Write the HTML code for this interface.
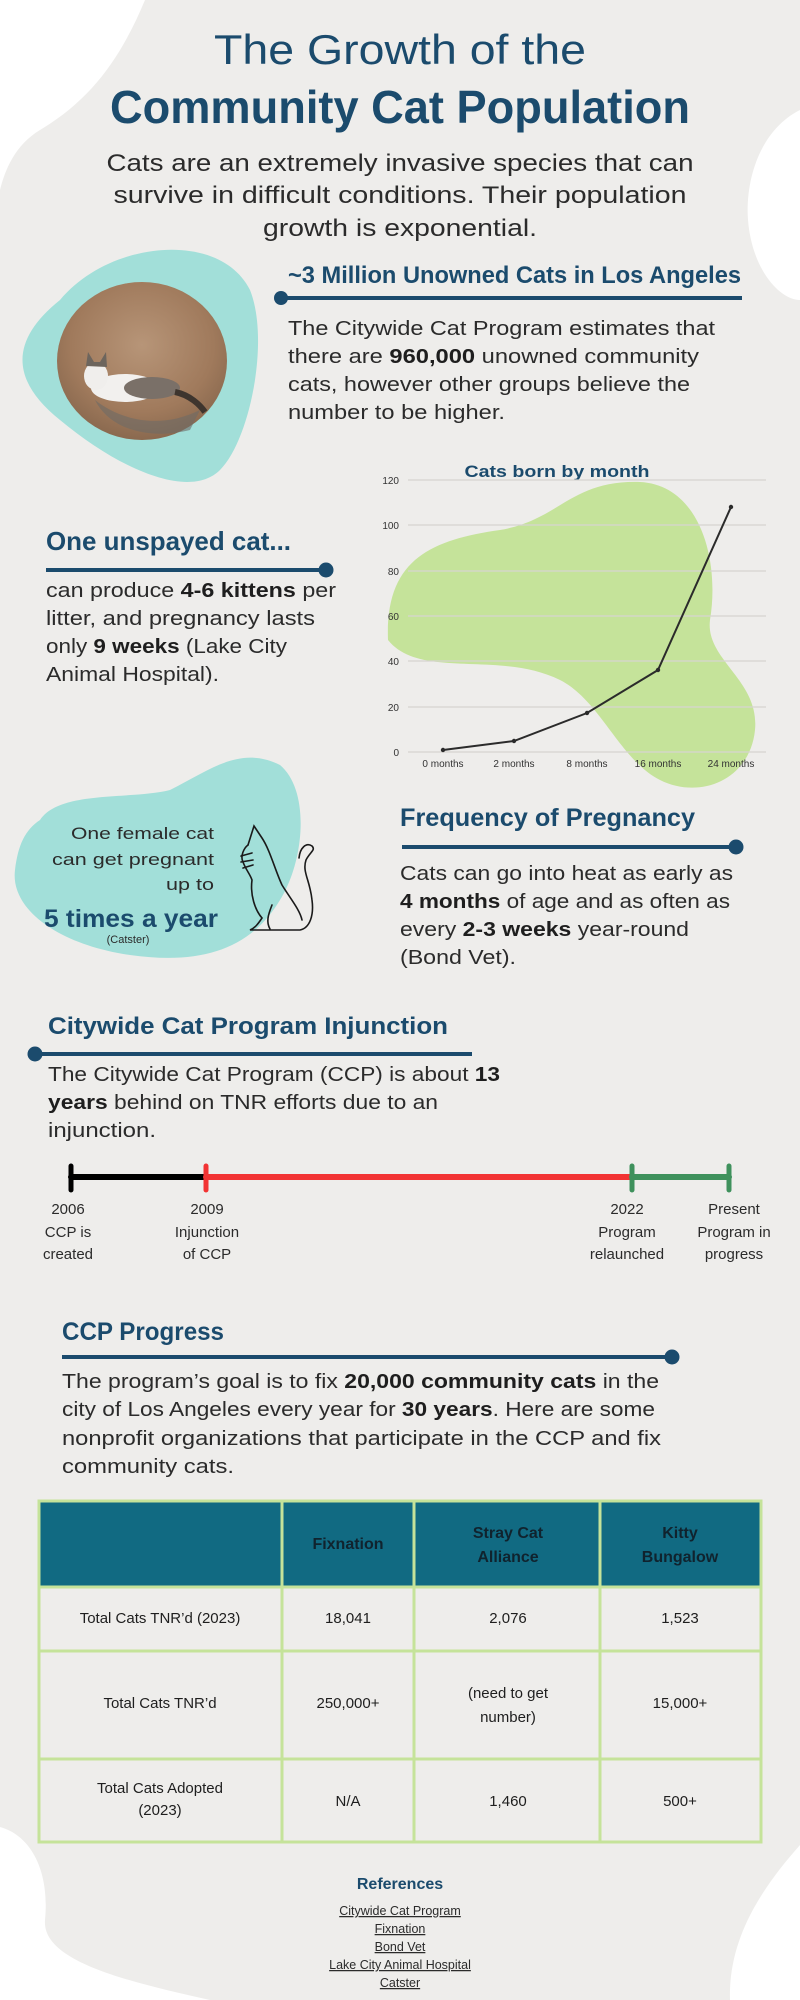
<!DOCTYPE html>
<html><head><meta charset="utf-8"><style>
html,body{margin:0;padding:0;background:#eeedeb;}
svg{display:block;}
text{font-family:"Liberation Sans",sans-serif;}
.h{fill:#1b4b6d;font-weight:bold;}
.b{fill:#2b2b2b;}
</style></head><body>
<svg width="800" height="2000" viewBox="0 0 800 2000" xmlns="http://www.w3.org/2000/svg">
<rect width="800" height="2000" fill="#eeedeb"/>
<!-- white corner blobs -->
<path d="M0 0 L145 0 C120 60 90 100 40 130 C15 145 5 170 0 190 Z" fill="#fff"/>
<path d="M800 110 C760 130 745 180 748 220 C752 270 780 300 800 300 Z" fill="#fff"/>
<path d="M0 1827 C30 1835 50 1870 45 1920 C42 1960 120 1980 210 2000 L0 2000 Z" fill="#fff"/>
<path d="M800 1845 C760 1890 728 1940 730 2000 L800 2000 Z" fill="#fff"/>

<!-- Title -->
<text x="400" y="64" text-anchor="middle" font-size="42" fill="#1b4b6d" textLength="372" lengthAdjust="spacingAndGlyphs">The Growth of the</text>
<text x="400" y="123" text-anchor="middle" font-size="46" class="h" textLength="580" lengthAdjust="spacingAndGlyphs">Community Cat Population</text>
<text x="400" y="171" text-anchor="middle" font-size="24" class="b" textLength="587" lengthAdjust="spacingAndGlyphs">Cats are an extremely invasive species that can</text>
<text x="400" y="203" text-anchor="middle" font-size="24" class="b" textLength="573" lengthAdjust="spacingAndGlyphs">survive in difficult conditions. Their population</text>
<text x="400" y="236" text-anchor="middle" font-size="24" class="b" textLength="274" lengthAdjust="spacingAndGlyphs">growth is exponential.</text>

<!-- teal blob 1 and photo -->
<path d="M60 300 C110 240 220 230 250 290 C270 340 250 440 220 470 C190 500 120 470 60 420 C10 380 10 340 60 300 Z" fill="#a2dfd9"/>
<defs>
<radialGradient id="sand" cx="0.5" cy="0.4" r="0.7">
<stop offset="0" stop-color="#b79578"/><stop offset="0.6" stop-color="#a07a5c"/><stop offset="1" stop-color="#7e6048"/></radialGradient>
</defs>
<ellipse cx="142" cy="361" rx="85" ry="79" fill="url(#sand)"/>
<path d="M95 400 C120 420 160 430 200 410 L190 430 C150 440 110 430 95 400 Z" fill="#6e6a66" opacity="0.6"/>
<ellipse cx="125" cy="388" rx="34" ry="14" fill="#f2f0ee"/>
<ellipse cx="152" cy="388" rx="28" ry="11" fill="#7a7068"/>
<ellipse cx="96" cy="376" rx="12" ry="14" fill="#f0eeec"/>
<path d="M86 366 L88 352 L94 362 L100 362 L106 352 L107 367 Z" fill="#6d655d"/>
<path d="M175 392 C190 395 200 405 205 412" stroke="#3e352e" stroke-width="6" fill="none"/>

<!-- Heading 1 -->
<text x="288" y="283" font-size="24" class="h" textLength="453" lengthAdjust="spacingAndGlyphs">~3 Million Unowned Cats in Los Angeles</text>
<line x1="281" y1="298" x2="742" y2="298" stroke="#1b4b6d" stroke-width="4"/>
<circle cx="281" cy="298" r="7" fill="#1b4b6d"/>
<g font-size="20" class="b">
<text x="288" y="335" textLength="427" lengthAdjust="spacingAndGlyphs">The Citywide Cat Program estimates that</text>
<text x="288" y="363" textLength="411" lengthAdjust="spacingAndGlyphs">there are <tspan font-weight="bold" fill="#1e1e1e">960,000</tspan> unowned community</text>
<text x="288" y="391" textLength="402" lengthAdjust="spacingAndGlyphs">cats, however other groups believe the</text>
<text x="288" y="419" textLength="217" lengthAdjust="spacingAndGlyphs">number to be higher.</text>
</g>

<!-- green blob + chart -->
<path d="M388 640 C385 560 430 540 500 530 C560 520 570 480 640 482 C700 485 720 560 710 620 C705 660 760 680 755 730 C750 780 700 800 660 780 C620 760 600 700 560 680 C500 650 420 680 388 640 Z" fill="#c5e39a"/>
<text x="557" y="477" text-anchor="middle" font-size="17" class="h" textLength="185" lengthAdjust="spacingAndGlyphs">Cats born by month</text>
<g stroke="#d6d4d0" stroke-width="1.2">
<line x1="408" y1="480" x2="766" y2="480"/><line x1="408" y1="525" x2="766" y2="525"/>
<line x1="408" y1="571" x2="766" y2="571"/><line x1="408" y1="616" x2="766" y2="616"/>
<line x1="408" y1="661" x2="766" y2="661"/><line x1="408" y1="707" x2="766" y2="707"/>
<line x1="408" y1="752" x2="766" y2="752"/>
</g>
<g font-size="10" fill="#333" text-anchor="end">
<text x="399" y="484">120</text><text x="399" y="529">100</text><text x="399" y="575">80</text>
<text x="399" y="620">60</text><text x="399" y="665">40</text><text x="399" y="711">20</text><text x="399" y="756">0</text>
</g>
<g font-size="10" fill="#333" text-anchor="middle">
<text x="443" y="767">0 months</text><text x="514" y="767">2 months</text><text x="587" y="767">8 months</text>
<text x="658" y="767">16 months</text><text x="731" y="767">24 months</text>
</g>
<polyline points="443,750 514,741 587,713 658,670 731,507" fill="none" stroke="#2b2b2b" stroke-width="2"/>
<g fill="#2b2b2b"><circle cx="443" cy="750" r="2.2"/><circle cx="514" cy="741" r="2.2"/><circle cx="587" cy="713" r="2.2"/><circle cx="658" cy="670" r="2.2"/><circle cx="731" cy="507" r="2.2"/></g>

<!-- One unspayed cat -->
<text x="46" y="550" font-size="26" class="h" textLength="245" lengthAdjust="spacingAndGlyphs">One unspayed cat...</text>
<line x1="46" y1="570" x2="326" y2="570" stroke="#1b4b6d" stroke-width="4"/>
<circle cx="326" cy="570" r="7.5" fill="#1b4b6d"/>
<g font-size="20" class="b">
<text x="46" y="597" textLength="290" lengthAdjust="spacingAndGlyphs">can produce <tspan font-weight="bold" fill="#1e1e1e">4-6 kittens</tspan> per</text>
<text x="46" y="625" textLength="269" lengthAdjust="spacingAndGlyphs">litter, and pregnancy lasts</text>
<text x="46" y="653" textLength="241" lengthAdjust="spacingAndGlyphs">only <tspan font-weight="bold" fill="#1e1e1e">9 weeks</tspan> (Lake City</text>
<text x="46" y="681" textLength="173" lengthAdjust="spacingAndGlyphs">Animal Hospital).</text>
</g>

<!-- teal blob 2 -->
<path d="M40 820 C60 790 130 800 170 790 C210 770 240 745 280 765 C310 790 305 860 280 900 C250 950 200 965 130 955 C60 945 10 910 15 870 C18 845 25 830 40 820 Z" fill="#a2dfd9"/>
<g font-size="17" class="b" text-anchor="end">
<text x="214" y="839" textLength="143" lengthAdjust="spacingAndGlyphs">One female cat</text>
<text x="214" y="865" textLength="162" lengthAdjust="spacingAndGlyphs">can get pregnant</text>
<text x="214" y="890" textLength="48" lengthAdjust="spacingAndGlyphs">up to</text>
</g>
<text x="44" y="927" font-size="25" class="h" textLength="174" lengthAdjust="spacingAndGlyphs">5 times a year</text>
<text x="128" y="943" font-size="11" class="b" text-anchor="middle">(Catster)</text>
<!-- cat outline -->
<g fill="none" stroke="#1a1a1a" stroke-width="1.6" stroke-linecap="round">
<path d="M248 845 L254 826 L262 838 C270 850 275 870 282 885 C290 898 300 910 302 920"/>
<path d="M248 845 C244 848 240 856 243 862 C246 870 250 874 252 880 C250 895 255 910 262 918 C258 924 255 928 250 930 L300 930 C310 928 314 915 312 900 C310 880 302 872 306 860 C310 852 316 850 312 846 C306 842 300 848 299 858"/>
<path d="M241 856 L252 853 M241 862 L253 860 M243 868 L253 865"/>
<path d="M272 905 C268 915 266 922 270 929"/>
</g>

<!-- Frequency of Pregnancy -->
<text x="400" y="826" font-size="25" class="h" textLength="295" lengthAdjust="spacingAndGlyphs">Frequency of Pregnancy</text>
<line x1="402" y1="847" x2="736" y2="847" stroke="#1b4b6d" stroke-width="4"/>
<circle cx="736" cy="847" r="7.5" fill="#1b4b6d"/>
<g font-size="20" class="b">
<text x="400" y="880" textLength="333" lengthAdjust="spacingAndGlyphs">Cats can go into heat as early as</text>
<text x="400" y="908" textLength="330" lengthAdjust="spacingAndGlyphs"><tspan font-weight="bold" fill="#1e1e1e">4 months</tspan> of age and as often as</text>
<text x="400" y="936" textLength="289" lengthAdjust="spacingAndGlyphs">every <tspan font-weight="bold" fill="#1e1e1e">2-3 weeks</tspan> year-round</text>
<text x="400" y="964" textLength="116" lengthAdjust="spacingAndGlyphs">(Bond Vet).</text>
</g>

<!-- Injunction -->
<text x="48" y="1034" font-size="24" class="h" textLength="400" lengthAdjust="spacingAndGlyphs">Citywide Cat Program Injunction</text>
<line x1="35" y1="1054" x2="472" y2="1054" stroke="#1b4b6d" stroke-width="4"/>
<circle cx="35" cy="1054" r="7.5" fill="#1b4b6d"/>
<g font-size="20" class="b">
<text x="48" y="1081" textLength="452" lengthAdjust="spacingAndGlyphs">The Citywide Cat Program (CCP) is about <tspan font-weight="bold" fill="#1e1e1e">13</tspan></text>
<text x="48" y="1109" textLength="390" lengthAdjust="spacingAndGlyphs"><tspan font-weight="bold" fill="#1e1e1e">years</tspan> behind on TNR efforts due to an</text>
<text x="48" y="1137" textLength="108" lengthAdjust="spacingAndGlyphs">injunction.</text>
</g>
<g stroke-width="6" stroke-linecap="round">
<line x1="71" y1="1177" x2="206" y2="1177" stroke="#000"/>
<line x1="206" y1="1177" x2="632" y2="1177" stroke="#f23333"/>
<line x1="632" y1="1177" x2="729" y2="1177" stroke="#3f915c"/>
<line x1="71" y1="1166" x2="71" y2="1190" stroke="#000" stroke-width="5"/>
<line x1="206" y1="1166" x2="206" y2="1190" stroke="#f23333" stroke-width="5"/>
<line x1="632" y1="1166" x2="632" y2="1190" stroke="#3f915c" stroke-width="5"/>
<line x1="729" y1="1166" x2="729" y2="1190" stroke="#3f915c" stroke-width="5"/>
</g>
<g font-size="15" class="b" text-anchor="middle">
<text x="68" y="1214">2006</text><text x="68" y="1237">CCP is</text><text x="68" y="1259">created</text>
<text x="207" y="1214">2009</text><text x="207" y="1237">Injunction</text><text x="207" y="1259">of CCP</text>
<text x="627" y="1214">2022</text><text x="627" y="1237">Program</text><text x="627" y="1259">relaunched</text>
<text x="734" y="1214">Present</text><text x="734" y="1237">Program in</text><text x="734" y="1259">progress</text>
</g>

<!-- CCP Progress -->
<text x="62" y="1340" font-size="25" class="h" textLength="162" lengthAdjust="spacingAndGlyphs">CCP Progress</text>
<line x1="62" y1="1357" x2="672" y2="1357" stroke="#1b4b6d" stroke-width="4"/>
<circle cx="672" cy="1357" r="7.5" fill="#1b4b6d"/>
<g font-size="20" class="b">
<text x="62" y="1388" textLength="597" lengthAdjust="spacingAndGlyphs">The program’s goal is to fix <tspan font-weight="bold" fill="#1e1e1e">20,000 community cats</tspan> in the</text>
<text x="62" y="1416" textLength="593" lengthAdjust="spacingAndGlyphs">city of Los Angeles every year for <tspan font-weight="bold" fill="#1e1e1e">30 years</tspan>. Here are some</text>
<text x="62" y="1445" textLength="599" lengthAdjust="spacingAndGlyphs">nonprofit organizations that participate in the CCP and fix</text>
<text x="62" y="1473" textLength="172" lengthAdjust="spacingAndGlyphs">community cats.</text>
</g>

<!-- Table -->
<rect x="39" y="1501" width="722" height="86" fill="#116a82"/>
<g stroke="#c5e39a" stroke-width="3" fill="none">
<rect x="39" y="1501" width="722" height="341"/>
<line x1="39" y1="1587" x2="761" y2="1587"/>
<line x1="39" y1="1651" x2="761" y2="1651"/>
<line x1="39" y1="1759" x2="761" y2="1759"/>
<line x1="282" y1="1501" x2="282" y2="1842"/>
<line x1="414" y1="1501" x2="414" y2="1842"/>
<line x1="600" y1="1501" x2="600" y2="1842"/>
</g>
<g font-size="16" font-weight="bold" fill="#10232e" text-anchor="middle">
<text x="348" y="1549">Fixnation</text>
<text x="508" y="1538">Stray Cat</text><text x="508" y="1562">Alliance</text>
<text x="680" y="1538">Kitty</text><text x="680" y="1562">Bungalow</text>
</g>
<g font-size="15" fill="#1e1e1e" text-anchor="middle">
<text x="160" y="1623">Total Cats TNR’d (2023)</text>
<text x="348" y="1623">18,041</text><text x="508" y="1623">2,076</text><text x="680" y="1623">1,523</text>
<text x="160" y="1708">Total Cats TNR’d</text>
<text x="348" y="1708">250,000+</text>
<text x="508" y="1698">(need to get</text><text x="508" y="1722">number)</text>
<text x="680" y="1708">15,000+</text>
<text x="160" y="1793">Total Cats Adopted</text><text x="160" y="1815">(2023)</text>
<text x="348" y="1806">N/A</text><text x="508" y="1806">1,460</text><text x="680" y="1806">500+</text>
</g>

<!-- References -->
<text x="400" y="1889" text-anchor="middle" font-size="16" class="h">References</text>
<g font-size="12.5" fill="#2b2b2b" text-anchor="middle" text-decoration="underline">
<text x="400" y="1915">Citywide Cat Program</text>
<text x="400" y="1933">Fixnation</text>
<text x="400" y="1951">Bond Vet</text>
<text x="400" y="1969">Lake City Animal Hospital</text>
<text x="400" y="1987">Catster</text>
</g>
</svg>
</body></html>
